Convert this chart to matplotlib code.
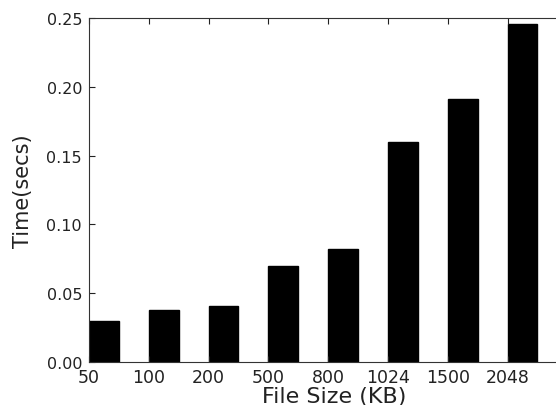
import numpy as np
import matplotlib
matplotlib.use("Agg")
import matplotlib.pyplot as plt

sizes = ["50", "100", "200", "500", "800", "1024", "1500", "2048"]
times = [0.030, 0.038, 0.041, 0.070, 0.082, 0.160, 0.191, 0.246]

fig = plt.figure(figsize=(5.56, 4.06), dpi=100)
# right spine sits just outside the picture, as in the reference
ax = fig.add_axes([0.160, 0.106, 0.882, 0.847])

x = np.arange(len(sizes))
ax.bar(x, times, width=0.5, align="edge", color="black", edgecolor="black")

ax.set_xlim(0, 8.2)
ax.set_ylim(0, 0.25)
ax.set_xticks(x)
ax.set_xticklabels(sizes)
ax.set_yticks(np.arange(0, 0.26, 0.05))
ax.tick_params(direction="in", top=True, right=True, length=4, pad=5, colors="#222222")
ax.tick_params(axis="x", labelsize=12.5, pad=4)
ax.tick_params(axis="y", labelsize=11.5)
ax.set_xlabel("File Size (KB)", fontsize=16, color="#222222", labelpad=0)
ax.set_ylabel("Time(secs)", fontsize=15, color="#222222", labelpad=10)
for s in ax.spines.values():
    s.set_color("#333333")

fig.savefig("out.png", dpi=100)
